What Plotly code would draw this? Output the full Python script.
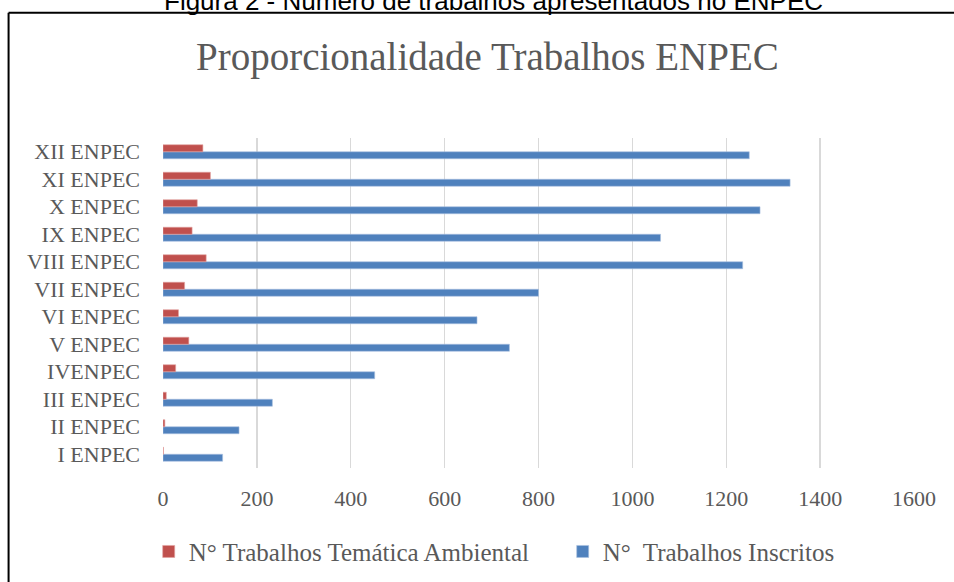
import plotly.graph_objects as go

categories = ["I ENPEC", "II ENPEC", "III ENPEC", "IVENPEC", "V ENPEC", "VI ENPEC",
              "VII ENPEC", "VIII ENPEC", "IX ENPEC", "X ENPEC", "XI ENPEC", "XII ENPEC"]
inscritos = [127, 162, 233, 451, 738, 669, 800, 1235, 1060, 1272, 1336, 1249]
ambiental = [1, 4, 7, 27, 55, 33, 46, 92, 62, 73, 101, 85]
x_ticks = [0, 200, 400, 600, 800, 1000, 1200, 1400, 1600]

name_amb = "N° Trabalhos Temática Ambiental"
name_ins = "N°\u00a0 Trabalhos Inscritos"
title_text = "Proporcionalidade Trabalhos ENPEC"
header_text = "Figura 2 - Número de trabalhos apresentados no ENPEC"

W, H = 954, 582
L, R, T, B = 163.3, 40.3, 138.3, 113.7
PW, PH = W - L - R, H - T - B


def px(x):
    return (x - L) / PW


def py(y):
    return 1 - (y - T) / PH


SERIF = "Liberation Serif, Times New Roman, serif"
GRAY = "#595959"

fig = go.Figure()
fig.add_trace(go.Bar(
    y=categories, x=inscritos, orientation="h", name=name_ins,
    marker=dict(color="#4f81bd", line=dict(color="#a9c1e0", width=0.6)),
    legendrank=2,
))
fig.add_trace(go.Bar(
    y=categories, x=ambiental, orientation="h", name=name_amb,
    marker=dict(color="#c0504d", line=dict(color="#e3a3a1", width=0.6)),
    legendrank=1,
))

fig.update_layout(
    width=W, height=H,
    margin=dict(l=L, r=R, t=T, b=B, autoexpand=False),
    paper_bgcolor="white", plot_bgcolor="white",
    barmode="group", bargap=0.49, bargroupgap=0,
    font=dict(family=SERIF, size=22, color=GRAY),
    showlegend=True,
    legend=dict(
        orientation="h", x=px(149), xanchor="left", y=py(552), yanchor="middle",
        font=dict(family=SERIF, size=25, color=GRAY),
        entrywidth=369, entrywidthmode="pixels",
        bgcolor="rgba(0,0,0,0)", itemclick=False,
    ),
    xaxis=dict(
        range=[0, 1600], tickvals=x_ticks, ticktext=[str(v) for v in x_ticks],
        showgrid=True, gridcolor="#d9d9d9", gridwidth=1.3,
        zeroline=False, showline=False, ticks="",
        ticklabelstandoff=15,
        tickfont=dict(family=SERIF, size=22, color=GRAY),
        fixedrange=True,
    ),
    yaxis=dict(
        type="category", categoryorder="array", categoryarray=categories,
        showgrid=False, zeroline=False, showline=False, ticks="",
        ticklabelstandoff=22,
        tickfont=dict(family=SERIF, size=22, color=GRAY),
        fixedrange=True,
    ),
    annotations=[
        dict(text=title_text, xref="paper", yref="paper", x=px(488), y=py(57),
             xanchor="center", yanchor="middle", showarrow=False,
             font=dict(family=SERIF, size=39, color=GRAY)),
        dict(text=header_text, xref="paper", yref="paper", x=px(494), y=py(1.5),
             xanchor="center", yanchor="middle", showarrow=False,
             font=dict(family="Liberation Sans, Arial, sans-serif", size=26, color="black")),
    ],
    shapes=[
        dict(type="line", xref="paper", yref="paper", x0=px(9), x1=px(960),
             y0=py(13), y1=py(13), line=dict(color="black", width=2)),
        dict(type="line", xref="paper", yref="paper", x0=px(9), x1=px(9),
             y0=py(13), y1=py(600), line=dict(color="black", width=2)),
    ],
)

fig.write_html(
    "out.html",
    config={"displayModeBar": False, "staticPlot": True},
    post_script="document.body.style.margin='0';document.body.style.overflow='hidden';",
)
